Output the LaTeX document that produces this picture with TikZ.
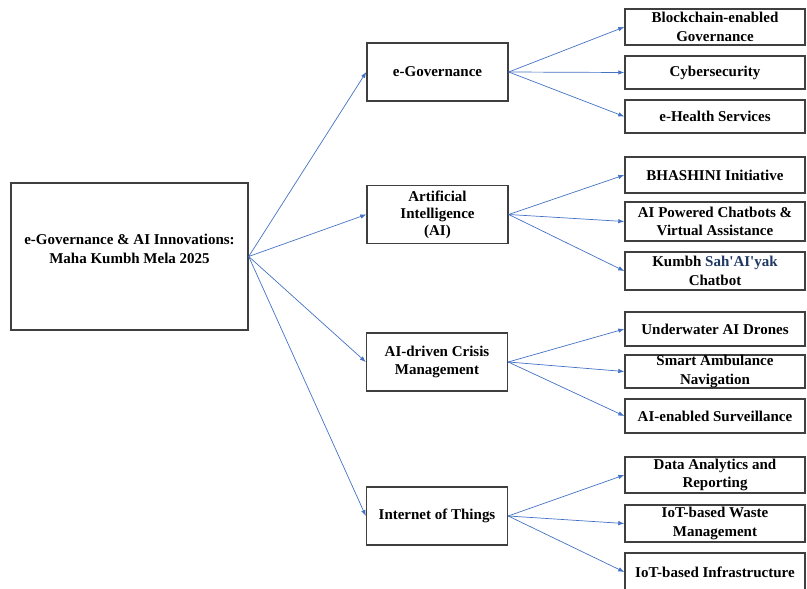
\documentclass[tikz,border=0pt]{standalone}
\usepackage{fontspec}
\setmainfont{Liberation Serif}[Ligatures=TeXOff]
\usetikzlibrary{arrows.meta}
\definecolor{linkblue}{HTML}{4472C4}
\definecolor{boxgray}{HTML}{3F3F3F}
\definecolor{sahaiblue}{HTML}{1F3864}
\tikzset{block/.style = {draw=boxgray, fill=white, line width=1.4pt, rectangle, align=center, inner sep=0pt, font=\fontsize{15}{18.5}\selectfont\bfseries, minimum height=58pt, minimum width=141pt},
         bigblock/.style = {block, minimum height=147pt, minimum width=237pt},
         leaf/.style = {block, minimum height=35pt, minimum width=180pt},
         link/.style = {draw=linkblue, line width=0.7pt, -{Latex[length=6pt,width=4.5pt]}}}

\begin{document}
\begin{tikzpicture}[x=1pt,y=-1pt]
    \useasboundingbox(0,0)rectangle(807,589);
    \node[bigblock](root)at(129.5,256.5){};
    \node[font=\fontsize{15}{18.5}\selectfont\bfseries, align=center](title)at(129.5,249){e-Governance \& AI Innovations:\\Maha Kumbh Mela 2025};
    \node[block](egov)at(437.5,72){e-Governance};
    \node[block, font=\fontsize{15}{17}\selectfont\bfseries](ai)at(437.5,214.5){Artificial\\Intelligence\\(AI)};
    \node[block](crisis)at(437,362){AI-driven Crisis\\Management};
    \node[block](iot)at(437,516){Internet of Things};
    \draw[link](root.east)--(egov.west);
    \draw[link](root.east)--(ai.west);
    \draw[link](root.east)--(crisis.west);
    \draw[link](root.east)--(iot.west);
    % e-governance branch
    \node[leaf, minimum height=36pt](chain)at(715,27){Blockchain-enabled\\Governance};
    \node[leaf, minimum height=33pt](cyber)at(715,72.5){Cybersecurity};
    \node[leaf, minimum height=33pt](health)at(715,116.5){e-Health Services};
    \draw[link](egov.east)--(chain.west);
    \draw[link](egov.east)--(cyber.west);
    \draw[link](egov.east)--(health.west);
    % AI branch
    \node[leaf, minimum height=36pt](bhashini)at(715,175){BHASHINI Initiative};
    \node[leaf, minimum height=39pt](chatbots)at(715,221.5){AI Powered Chatbots \&\\Virtual Assistance};
    \node[leaf, minimum height=38pt](sahaiyak)at(715,271){Kumbh {\color{sahaiblue}Sah'AI'yak}\\Chatbot};
    \draw[link](ai.east)--(bhashini.west);
    \draw[link](ai.east)--(chatbots.west);
    \draw[link](ai.east)--(sahaiyak.west);
    % crisis branch
    \node[leaf, minimum height=34pt](drones)at(715,329){Underwater AI Drones};
    \node[leaf, minimum height=33pt](ambulance)at(715,371.5){Smart Ambulance\\Navigation};
    \node[leaf, minimum height=34pt](surveil)at(715,416){AI-enabled Surveillance};
    \draw[link](crisis.east)--(drones.west);
    \draw[link](crisis.east)--(ambulance.west);
    \draw[link](crisis.east)--(surveil.west);
    % iot branch
    \node[leaf, minimum height=36pt](analytics)at(715,475){Data Analytics and\\Reporting};
    \node[leaf, minimum height=37pt](waste)at(715,523.5){IoT-based Waste\\Management};
    \node[leaf, minimum height=38pt](infra)at(715,572){IoT-based Infrastructure};
    \draw[link](iot.east)--(analytics.west);
    \draw[link](iot.east)--(waste.west);
    \draw[link](iot.east)--(infra.west);
\end{tikzpicture}
\end{document}
